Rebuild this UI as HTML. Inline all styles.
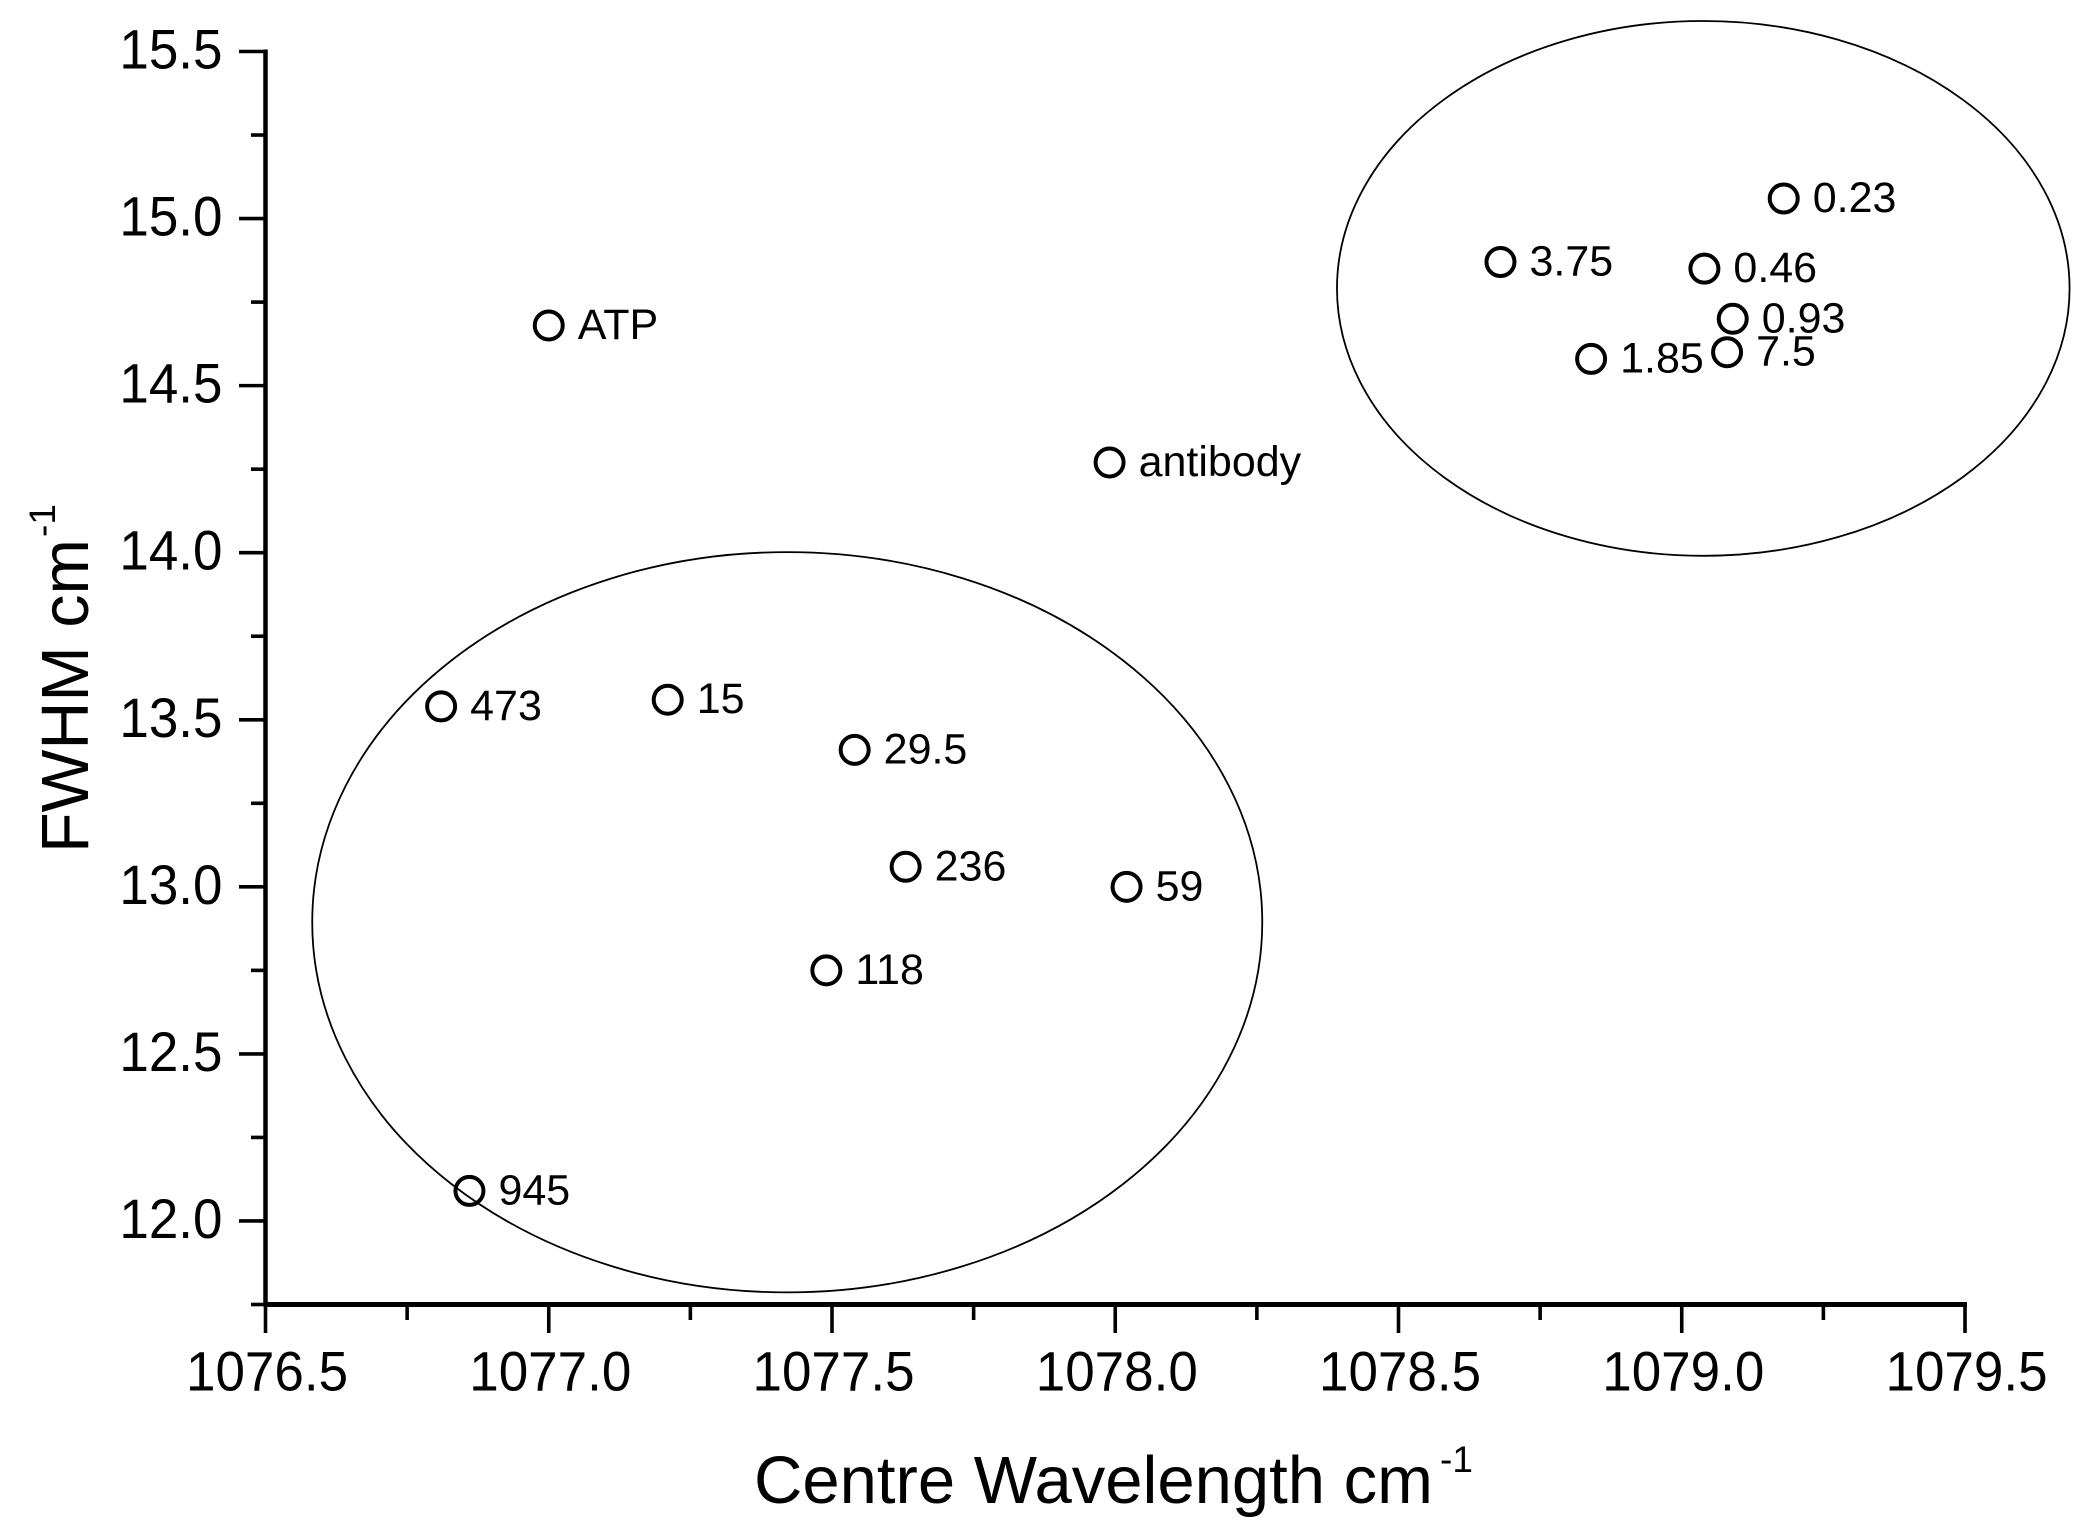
<!DOCTYPE html>
<html lang="en">
<head>
<meta charset="utf-8">
<title>FWHM vs Centre Wavelength</title>
<style>
html,body{margin:0;padding:0;background:#fff;}
svg{display:block;}
text{font-family:"Liberation Sans",Arial,sans-serif;fill:#000;}
</style>
</head>
<body>
<svg id="chart" xmlns="http://www.w3.org/2000/svg" width="2097" height="1534" viewBox="0 0 2097 1534">
<rect x="0" y="0" width="2097" height="1534" fill="#fff"/>
<text x="754" y="1503" font-size="67">Centre Wavelength cm</text>
<text x="1440" y="1472" font-size="37">-1</text>
<text transform="translate(88,853) rotate(-90)" font-size="66.5">FWHM cm</text>
<text transform="translate(55,537) rotate(-90)" font-size="37">-1</text>
</svg>
<script>
const pointLabels = ['ATP','antibody','0.23','3.75','0.46','0.93','7.5','1.85','473','15','29.5','236','59','118','945'];
const pointX = [1077.00,1077.99,1079.18,1078.68,1079.04,1079.09,1079.08,1078.84,1076.81,1077.21,1077.54,1077.63,1078.02,1077.49,1076.86];
const pointY = [14.68,14.27,15.06,14.87,14.85,14.70,14.60,14.58,13.54,13.56,13.41,13.06,13.00,12.75,12.09];

const xMajorTicks = [1076.5,1077.0,1077.5,1078.0,1078.5,1079.0,1079.5];
const xMajorLabels = ['1076.5','1077.0','1077.5','1078.0','1078.5','1079.0','1079.5'];
const xMinorTicks = [1076.75,1077.25,1077.75,1078.25,1078.75,1079.25];
const yMajorTicks = [12.0,12.5,13.0,13.5,14.0,14.5,15.0,15.5];
const yMajorLabels = ['12.0','12.5','13.0','13.5','14.0','14.5','15.0','15.5'];
const yMinorTicks = [11.75,12.25,12.75,13.25,13.75,14.25,14.75,15.25];

const ellipseNames = ['high-wavelength-cluster-ellipse','low-wavelength-cluster-ellipse'];
const ellipseCentreX = [1079.038,1077.421];
const ellipseCentreY = [14.791,12.894];
const ellipseRadiusX = [0.6466,0.8385];
const ellipseRadiusY = [0.8003,1.1078];

const X_MIN = 1076.5, X_MAX = 1079.5, Y_MIN = 11.75, Y_MAX = 15.5;
const PLOT_LEFT = 265.5, PLOT_RIGHT = 1965, PLOT_TOP = 51.5, PLOT_BOTTOM = 1304.5;

function xScale(v){ return PLOT_LEFT + (v - X_MIN) / (X_MAX - X_MIN) * (PLOT_RIGHT - PLOT_LEFT); }
function yScale(v){ return PLOT_BOTTOM - (v - Y_MIN) / (Y_MAX - Y_MIN) * (PLOT_BOTTOM - PLOT_TOP); }
function xSize(v){ return v / (X_MAX - X_MIN) * (PLOT_RIGHT - PLOT_LEFT); }
function ySize(v){ return v / (Y_MAX - Y_MIN) * (PLOT_BOTTOM - PLOT_TOP); }

const svg = document.getElementById('chart');
const NS = 'http://www.w3.org/2000/svg';

function makeLine(x1,y1,x2,y2,w){
  const el = document.createElementNS(NS,'line');
  el.setAttribute('x1',x1);
  el.setAttribute('y1',y1);
  el.setAttribute('x2',x2);
  el.setAttribute('y2',y2);
  el.setAttribute('stroke','#000');
  el.setAttribute('stroke-width',w);
  svg.appendChild(el);
  return el;
}
function makeText(x,y,str,size,anchor,stretchY){
  const el = document.createElementNS(NS,'text');
  el.setAttribute('transform','translate(' + x + ',' + y + ') scale(1,' + stretchY + ')');
  el.setAttribute('font-size',size);
  el.setAttribute('text-anchor',anchor);
  el.textContent = str;
  svg.appendChild(el);
  return el;
}

ellipseNames.forEach(function(name,i){
  const el = document.createElementNS(NS,'ellipse');
  el.setAttribute('cx',xScale(ellipseCentreX[i]));
  el.setAttribute('cy',yScale(ellipseCentreY[i]));
  el.setAttribute('rx',xSize(ellipseRadiusX[i]));
  el.setAttribute('ry',ySize(ellipseRadiusY[i]));
  el.setAttribute('fill','none');
  el.setAttribute('stroke','#000');
  el.setAttribute('stroke-width','1.8');
  
  
  svg.appendChild(el);
});

const yAxisLine = makeLine(PLOT_LEFT,PLOT_TOP-2,PLOT_LEFT,PLOT_BOTTOM+2,4.5);


const xAxisLine = makeLine(PLOT_LEFT-2,PLOT_BOTTOM,PLOT_RIGHT+2,PLOT_BOTTOM,5);



xMajorTicks.forEach(function(v,i){
  const t = makeLine(xScale(v),PLOT_BOTTOM,xScale(v),1333,3.6);
  
  
  const l = makeText(xScale(v)+1.5,1390.5,xMajorLabels[i],53,'middle',1.05);
  
  
});
xMinorTicks.forEach(function(v){
  const t = makeLine(xScale(v),PLOT_BOTTOM,xScale(v),1320,3.6);
  
  
});
yMajorTicks.forEach(function(v,i){
  const t = makeLine(239,yScale(v),PLOT_LEFT,yScale(v),3.6);
  
  
  const l = makeText(222.5,yScale(v)+17,yMajorLabels[i],53,'end',1.05);
  
  
});
yMinorTicks.forEach(function(v){
  const t = makeLine(251,yScale(v),PLOT_LEFT,yScale(v),3.6);
  
  
});

pointLabels.forEach(function(label,i){
  const px = xScale(pointX[i]);
  const py = yScale(pointY[i]);
  const c = document.createElementNS(NS,'circle');
  c.setAttribute('cx',px);
  c.setAttribute('cy',py);
  c.setAttribute('r',14);
  c.setAttribute('fill','none');
  c.setAttribute('stroke','#000');
  c.setAttribute('stroke-width','4');
  
  
  svg.appendChild(c);
  const l = makeText(px+29,py+13.5,label,43,'start',1);
  
  
});
</script>
</body>
</html>
